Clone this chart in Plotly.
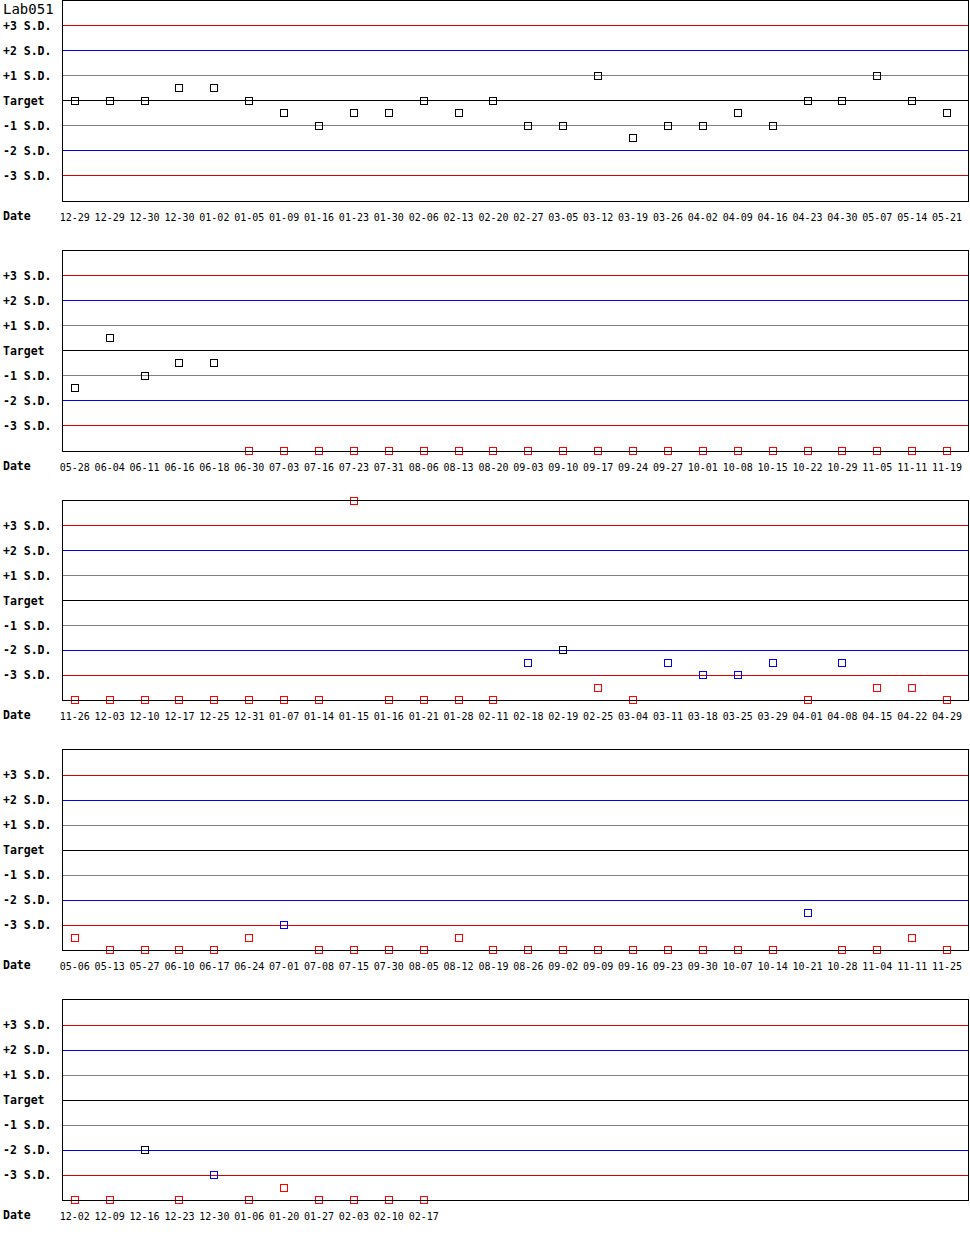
import plotly.graph_objects as go

# ---------------- data ----------------
title_text = "Lab051"

dates_1 = ["12-29", "12-29", "12-30", "12-30", "01-02", "01-05", "01-09", "01-16", "01-23",
           "01-30", "02-06", "02-13", "02-20", "02-27", "03-05", "03-12", "03-19", "03-26",
           "04-02", "04-09", "04-16", "04-23", "04-30", "05-07", "05-14", "05-21"]
sd_1 = [0, 0, 0, 0.5, 0.5, 0, -0.5, -1, -0.5, -0.5, 0, -0.5, 0, -1, -1, 1, -1.5, -1,
        -1, -0.5, -1, 0, 0, 1, 0, -0.5]

dates_2 = ["05-28", "06-04", "06-11", "06-16", "06-18", "06-30", "07-03", "07-16", "07-23",
           "07-31", "08-06", "08-13", "08-20", "09-03", "09-10", "09-17", "09-24", "09-27",
           "10-01", "10-08", "10-15", "10-22", "10-29", "11-05", "11-11", "11-19"]
sd_2 = [-1.5, 0.5, -1, -0.5, -0.5, -4, -4, -4, -4, -4, -4, -4, -4, -4, -4, -4, -4, -4,
        -4, -4, -4, -4, -4, -4, -4, -4]

dates_3 = ["11-26", "12-03", "12-10", "12-17", "12-25", "12-31", "01-07", "01-14", "01-15",
           "01-16", "01-21", "01-28", "02-11", "02-18", "02-19", "02-25", "03-04", "03-11",
           "03-18", "03-25", "03-29", "04-01", "04-08", "04-15", "04-22", "04-29"]
sd_3 = [-4, -4, -4, -4, -4, -4, -4, -4, 4, -4, -4, -4, -4, -2.5, -2, -3.5, -4, -2.5,
        -3, -3, -2.5, -4, -2.5, -3.5, -3.5, -4]

dates_4 = ["05-06", "05-13", "05-27", "06-10", "06-17", "06-24", "07-01", "07-08", "07-15",
           "07-30", "08-05", "08-12", "08-19", "08-26", "09-02", "09-09", "09-16", "09-23",
           "09-30", "10-07", "10-14", "10-21", "10-28", "11-04", "11-11", "11-25"]
sd_4 = [-3.5, -4, -4, -4, -4, -3.5, -3, -4, -4, -4, -4, -3.5, -4, -4, -4, -4, -4, -4,
        -4, -4, -4, -2.5, -4, -4, -3.5, -4]

dates_5 = ["12-02", "12-09", "12-16", "12-23", "12-30", "01-06", "01-20", "01-27", "02-03",
           "02-10", "02-17"]
sd_5 = [-4, -4, -2, -4, -3, -4, -3.5, -4, -4, -4, -4]

panels = [(dates_1, sd_1), (dates_2, sd_2), (dates_3, sd_3), (dates_4, sd_4), (dates_5, sd_5)]

level_values = [3, 2, 1, 0, -1, -2, -3]
level_labels = ["+3 S.D.", "+2 S.D.", "+1 S.D.", "Target", "-1 S.D.", "-2 S.D.", "-3 S.D."]
x_title = "Date"

# ---------------- style ----------------
W, H = 970, 1250
PLOT_L, PLOT_R = 60, 968
PANEL_STEP, PANEL_H = 250, 200
FIRST_X, STEP_X = 72, 35
level_colors = {3: "#dd0000", 2: "#0000ff", 1: "#808080", 0: "#000000",
                -1: "#808080", -2: "#0000ff", -3: "#dd0000"}
mono = "DejaVu Sans Mono"


def point_color(v):
    a = abs(v)
    if a <= 2:
        return "#000000"
    if a <= 3:
        return "#0000ff"
    return "#ff0000"


fig = go.Figure()
x_lo = (PLOT_L - FIRST_X) / STEP_X
x_hi = (PLOT_R - FIRST_X) / STEP_X
annotations = []
shapes = []

for k, (dates, vals) in enumerate(panels):
    idx = k + 1
    xa = "x" if idx == 1 else f"x{idx}"
    ya = "y" if idx == 1 else f"y{idx}"
    top_px = PANEL_STEP * k
    bot_px = top_px + PANEL_H
    ydom = [(H - bot_px) / H, (H - top_px) / H]
    xdom = [PLOT_L / W, PLOT_R / W]

    xs = list(range(len(dates)))
    fig.add_trace(go.Scatter(
        x=xs, y=vals, mode="markers", xaxis=xa, yaxis=ya,
        marker=dict(symbol="square-open", size=7, color=[point_color(v) for v in vals],
                    line=dict(width=1)),
        cliponaxis=False, showlegend=False, hoverinfo="skip"))

    axis_x = dict(domain=xdom, range=[x_lo, x_hi], anchor=ya,
                  tickvals=xs, ticktext=dates, showgrid=False, zeroline=False,
                  showline=True, linecolor="black", linewidth=1, mirror=True,
                  ticks="", ticklabelstandoff=7,
                  tickfont=dict(family=mono, size=10, color="black"))
    axis_y = dict(domain=ydom, range=[-4, 4], anchor=xa, showgrid=False, zeroline=False,
                  showline=True, linecolor="black", linewidth=1, mirror=True,
                  showticklabels=False, ticks="")
    fig.update_layout({("xaxis" if idx == 1 else f"xaxis{idx}"): axis_x,
                       ("yaxis" if idx == 1 else f"yaxis{idx}"): axis_y})

    for lv, lab in zip(level_values, level_labels):
        shapes.append(dict(type="line", xref=f"{xa} domain", yref=ya, x0=0, x1=1,
                           y0=lv, y1=lv, layer="below",
                           line=dict(color=level_colors[lv], width=1)))
        annotations.append(dict(xref="paper", yref=ya, x=0, y=lv, xanchor="left",
                                yanchor="middle", text=lab, showarrow=False, borderpad=0,
                                xshift=-1,
                                font=dict(family=mono, size=11.5, color="black", weight="bold")))
    annotations.append(dict(xref="paper", yref=f"{ya} domain", x=0, y=-15 / PANEL_H,
                            xanchor="left", yanchor="middle", text=x_title, showarrow=False,
                            borderpad=0, xshift=-1,
                            font=dict(family=mono, size=11.5, color="black", weight="bold")))

annotations.append(dict(xref="paper", yref="paper", x=0, y=1, xanchor="left", yanchor="top",
                        text=title_text, showarrow=False, yshift=1, borderpad=0, xshift=-1,
                        font=dict(family=mono, size=14, color="black")))

fig.update_layout(width=W, height=H, margin=dict(l=0, r=0, t=0, b=0),
                  paper_bgcolor="white", plot_bgcolor="white",
                  annotations=annotations, shapes=shapes)

post = """
document.body.style.margin='0';
document.querySelectorAll('.shapelayer path, .scatterlayer path.point').forEach(function(p){
  p.setAttribute('shape-rendering','crispEdges');
  p.style.shapeRendering='crispEdges';
});
"""

fig.write_html("out.html", config={"displayModeBar": False}, post_script=post)
